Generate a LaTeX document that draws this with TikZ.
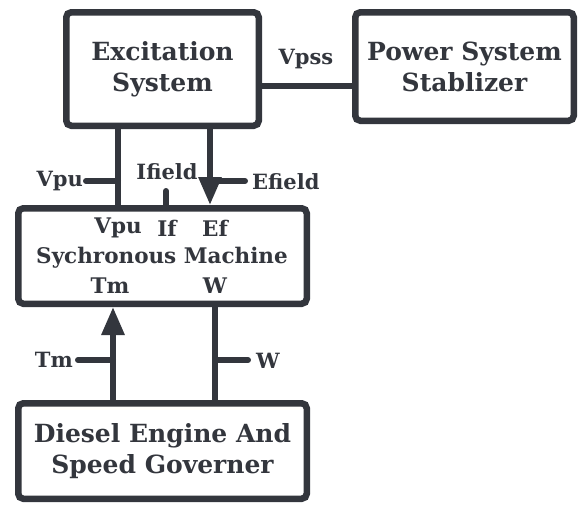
\documentclass[tikz,border=0pt]{standalone}
\usepackage{fontspec}
\setmainfont{DejaVu Serif}
\usetikzlibrary{arrows.meta,calc}
\definecolor{ink}{HTML}{33363d}
\begin{document}
\begin{tikzpicture}[x=1pt,y=-1pt,
  block/.style={draw=ink, line width=6.5pt, rounded corners=5pt, fill=white,
    inner sep=0pt, text=ink, align=center,
    font=\bfseries\fontsize{25}{31}\selectfont},
  wire/.style={draw=ink, line width=6pt},
  stub/.style={draw=ink, line width=6pt, line cap=round},
  flow/.style={wire, -{Triangle[length=28pt,width=22pt]}},
  sig/.style={text=ink, inner sep=0pt, font=\bfseries\fontsize{21}{25}\selectfont},
  inlabel/.style={text=ink, inner sep=0pt, font=\bfseries\fontsize{21.5}{25}\selectfont}]
\useasboundingbox (0,0) rectangle (579,506);

% blocks
\node[block, minimum width=192.5pt, minimum height=113.5pt] (exc) at (162.5,69) {Excitation\\System};
\node[block, minimum width=218.5pt, minimum height=108.5pt] (pss) at (464.5,66.5) {Power System\\Stablizer};
\node[block, minimum width=288.5pt, minimum height=95.5pt] (mach) at (162.5,256) {};
\node[block, minimum width=288.5pt, minimum height=95.5pt] (dsl) at (162.5,451) {Diesel Engine And\\Speed Governer};

% port names inside the machine block
\node[inlabel] (pvpu) at (118,228) {Vpu};
\node[inlabel] (pif) at (167,228) {If};
\node[inlabel] (pef) at (215,228) {Ef};
\node[inlabel] (mname) at (162,258) {Sychronous Machine};
\node[inlabel] (ptm) at (110,286) {Tm};
\node[inlabel] (pw) at (215,286) {W};

% column positions of the vertical signals
\coordinate (xvpu) at (118,0);
\coordinate (xif) at (166,0);
\coordinate (xef) at (210,0);
\coordinate (xtm) at (113,0);
\coordinate (xw) at (215,0);
\coordinate (ypss) at (0,86);

% Vpss link
\draw[wire] (exc.east |- ypss) -- (pss.west |- ypss);
\node[sig] (lvpss) at (306,59) {Vpss};

% excitation <-> machine
\draw[wire] (exc.south -| xvpu) -- (mach.north -| xvpu);
\draw[flow] (exc.south -| xef) -- (mach.north -| xef);
\coordinate (iftop) at (166,191);
\draw[stub] (iftop) -- (mach.north -| xif);
\node[sig] (lif) at (167,172) {Ifield};

\coordinate (vpuend) at (86,181);
\draw[stub] (vpuend) -- (vpuend -| xvpu);
\node[sig, anchor=east] (lvpu) at (83,181) {Vpu};
\coordinate (efend) at (245,181);
\draw[stub] (efend -| xef) -- (efend);
\node[sig, anchor=west] (lef) at (252,182) {Efield};

% diesel <-> machine
\draw[flow] (dsl.north -| xtm) -- (mach.south -| xtm);
\draw[wire] (mach.south -| xw) -- (dsl.north -| xw);
\coordinate (tmend) at (78,360);
\draw[stub] (tmend) -- (tmend -| xtm);
\node[sig, anchor=east] (ltm) at (73,360) {Tm};
\coordinate (wend) at (248,360);
\draw[stub] (wend -| xw) -- (wend);
\node[sig, anchor=west] (lw) at (256,361) {W};
\end{tikzpicture}
\end{document}
